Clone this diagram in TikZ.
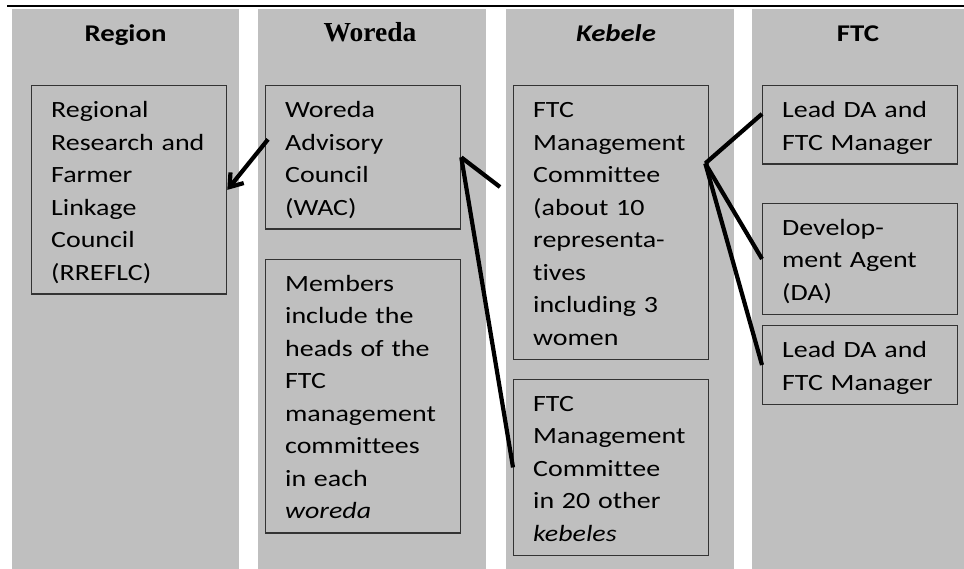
\documentclass[tikz,border=0pt]{standalone}
\usepackage{fontspec}
\setmainfont{Carlito}[FakeStretch=1.2, Ligatures={CommonOff,ContextualOff}, Contextuals=AlternateOff]
\newfontfamily\woredafont{Liberation Serif}
\usetikzlibrary{positioning}
\usetikzlibrary{arrows.meta}
\definecolor{panelgray}{HTML}{BFBFBF}
\definecolor{boxline}{HTML}{333333}

\begin{document}
\begin{tikzpicture}[x=1pt, y=-1pt,
                    heading/.style={font=\fontsize{24}{28}\selectfont\bfseries, anchor=base},
                    infobox/.style={rectangle, draw=boxline, line width=1.3pt, anchor=north west,
                                    align=left, text width=156pt, inner xsep=19.5pt, inner ysep=8pt,
                                    font=\fontsize{23.3}{32.5}\selectfont,
                                    execute at begin node=\rule{0pt}{24pt},
                                    execute at end node=\rule[-6pt]{0pt}{6pt}},
                    link/.style={line width=4.2pt}
                   ]
\useasboundingbox (0,0) rectangle (964,569);
%Columns
\foreach \cx/\cw in {12/227, 258/228, 506/228, 752/212}
  \fill[panelgray] (\cx,9) rectangle ++(\cw,560);
\draw[line width=2.5pt] (7,6) -- (964,6);
%Headings
\node[heading] (hregion) at (125.5,42) {Region};
\node[heading] (hworeda) at (370,42) {\woredafont\fontsize{27.5}{30}\selectfont Woreda};
\node[heading] (hkebele) at (616,42) {\itshape Kebele};
\node[heading] (hftc)    at (858,42) {FTC};
%Boxes
\node[infobox] (rreflc)   at (31,85)  {Regional\\Research and\\Farmer\\Linkage\\Council\\(RREFLC)};
\node[infobox] (wac)      at (265,85) {Woreda\\Advisory\\Council\\(WAC)};
\node[infobox] (members)  [below=29pt of wac] {Members\\include the\\heads of the\\FTC\\management\\commit\kern0pt tees\\in each\\\textit{woreda}};
\node[infobox] (ftcmc)    at (513,85) {FTC\\Management\\Commit\kern0pt tee\\(about 10\\representa-\\t\kern0pt ives\\including 3\\women};
\node[infobox] (ftcother) [below=19pt of ftcmc] {FTC\\Management\\Commit\kern0pt tee\\in 20 other\\\textit{kebeles}};
\node[infobox] (leadone)  at (762,85) {Lead DA and\\FTC Manager};
\node[infobox] (devagent) [below=38pt of leadone] {Develop-\\ment Agent\\(DA)};
\node[infobox] (leadtwo)  [below=10pt of devagent] {Lead DA and\\FTC Manager};
%Lines
\coordinate (wacstub) at (500,187);
\coordinate (hub) at ([xshift=-4pt,yshift=59pt]ftcmc.east);
\draw[link, -{Straight Barb[length=12pt,width=17pt]}] ([xshift=3pt,yshift=18pt]wac.west) -- (rreflc.east);
\draw[link] (wac.east) -- (wacstub);
\draw[link] (wac.east) -- (ftcother.west);
\draw[link] (hub) -- ([yshift=11pt]leadone.west);
\draw[link] (hub) -- (devagent.west);
\draw[link] (hub) -- (leadtwo.west);
\end{tikzpicture}
\end{document}
